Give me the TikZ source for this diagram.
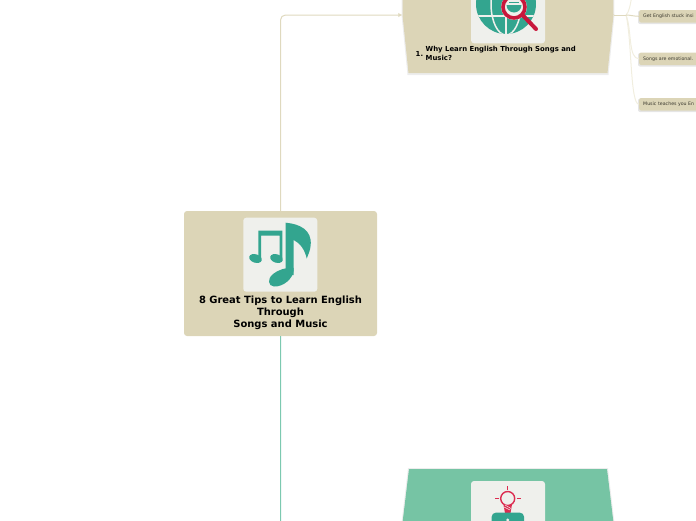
\documentclass[tikz,border=0pt]{standalone}
\usepackage{fontspec}
\setmainfont{DejaVu Sans}
\usetikzlibrary{arrows.meta}
\definecolor{beige}{HTML}{DCD5B7}
\definecolor{beigeline}{HTML}{DFD9BE}
\definecolor{paleline}{HTML}{F1EEDF}
\definecolor{mint}{HTML}{76C4A4}
\definecolor{mintline}{HTML}{7CC9B0}
\definecolor{tile}{HTML}{EFF0EC}
\definecolor{teal}{HTML}{33A58F}
\definecolor{crimson}{HTML}{C8173C}
\definecolor{rosered}{HTML}{DC2C50}
\definecolor{inkdark}{HTML}{3A382E}
\tikzset{
  x=1pt,y=-1pt,
  rootbox/.style={fill=beige,rounded corners=3pt,minimum width=193pt,minimum height=125pt,inner sep=0pt},
  tilebox/.style={fill=tile,rounded corners=3pt,minimum width=74pt,minimum height=74pt,inner sep=0pt},
  anchorbox/.style={minimum width=211pt,minimum height=116pt,inner sep=0pt},
  childbox/.style={fill=beige,rounded corners=2pt,minimum height=12.6pt,minimum width=80pt,inner sep=0pt},
  childshadow/.style={fill=black,opacity=.10,rounded corners=2pt},
  childtext/.style={font=\fontsize{4.7}{5.6}\selectfont,text=inkdark,inner sep=0pt,anchor=west},
  roottitle/.style={font=\fontsize{9.95}{12}\selectfont\bfseries,align=center,inner sep=0pt,text=black},
  subtitle/.style={font=\fontsize{6.9}{8.7}\selectfont\bfseries,align=left,inner sep=0pt,text=black,anchor=west},
  softshadow/.style={fill=black,opacity=.07},
  trunk/.style={line width=1pt,rounded corners=5pt},
  twig/.style={paleline,line width=1pt},
}
\begin{document}
\begin{tikzpicture}
\useasboundingbox (0,0) rectangle (696,520);
\clip (0,0) rectangle (696,520);
% anchors of the three main nodes
\node[rootbox] (root) at (280.5,273.5) {};
\node[anchorbox] (why) at (508,15) {};
\node[anchorbox] (idea) at (508,527) {};
% trunks
\draw[trunk,beigeline,-{Latex[length=4pt,width=4.5pt]}] (root.north) |- (why.west);
\draw[trunk,mintline] (root.south) |- (idea.west);
% upper main node
\fill[softshadow] (402,-43) -- (401.5,15) -- (407.5,75) -- (608.5,75) -- (614.5,15) -- (614,-43) -- cycle;
\fill[beige] (403,-43) -- (402.5,15) -- (408.5,73) -- (607.5,73) -- (613.5,15) -- (613,-43) -- cycle;
% lower main node
\fill[softshadow] (408,468) -- (401,527) -- (615,527) -- (608,468) -- cycle;
\fill[mint] (409,469) -- (402,527) -- (614,527) -- (607,469) -- cycle;
% root tile + music icon
\node[tilebox] (rootTile) at (280.3,254.7) {};
\begin{scope}
  \fill[teal] (258.3,258) -- (258.3,230.7) -- (282.3,230.7) -- (282.3,258) -- (279.5,258) -- (279.5,235.7) -- (261.2,235.7) -- (261.2,258) -- cycle;
  \fill[teal,rotate around={-18:(255.5,258.5)}] (255.5,258.5) ellipse (6.5 and 4.2);
  \fill[teal,rotate around={-18:(276.5,258.5)}] (276.5,258.5) ellipse (6.5 and 4.2);
  \fill[teal] (285.7,276) -- (285.7,222.7) .. controls (300,224) and (312,230) .. (310.7,245)
     .. controls (310.5,250) and (308,255) .. (306.7,258.5)
     .. controls (305,250) and (300,243) .. (293.7,240) -- (293.7,275) -- cycle;
  \fill[teal] (293.7,270) .. controls (293,279) and (283,287) .. (274,286.5)
     .. controls (268,286) and (267,279) .. (273,274) .. controls (278,270) and (286,267) .. (293.7,268) -- cycle;
\end{scope}
\node[roottitle] (rootTitle) at (280.5,312.5) {8 Great Tips to Learn English\\Through\\Songs and Music};
% why tile + globe icon
\node[tilebox] (whyTile) at (508,6.3) {};
\begin{scope}
  \begin{scope}
    \clip (506,4) circle (30);
    \fill[teal] (476,-26) rectangle (536,34);
    \draw[tile,line width=1.5pt] (476,-6) -- (536,-6) (476,16) -- (536,16);
    \draw[tile,line width=1.5pt] (506,-26) -- (506,34);
    \draw[tile,line width=1.5pt] (506,4) ellipse (15 and 31);
    \fill[tile] (514,7) circle (13);
  \end{scope}
  \begin{scope}
    \clip (505,5) rectangle (523,16);
    \fill[teal] (514,5) circle (7.5);
  \end{scope}
  \fill[teal] (509,2) rectangle (519,3.4);
  \draw[crimson,line width=3.6pt] (514,7) circle (11);
  \draw[crimson,line width=4pt,line cap=round] (523,15.5) -- (536,29);
\end{scope}
\node[subtitle] (whyNum) at (415.5,53.5) {1.};
\node[subtitle] (whyTitle) at (425.5,53.5) {Why Learn English Through Songs and\\Music?};
% idea tile + bulb icon
\node[tilebox] (ideaTile) at (508,518) {};
\begin{scope}
  \draw[rosered,line width=1.4pt] (507.7,498.5) circle (7);
  \draw[rosered,line width=1.2pt] (507.7,486) -- (507.7,489.5) (495,498.5) -- (499,498.5) (516.5,498.5) -- (520.5,498.5);
  \fill[rosered] (503.5,505) -- (511.9,505) -- (510.5,513) -- (505,513) -- cycle;
  \draw[tile,line width=.5pt] (504,507) -- (510,510) (505,505) -- (511,508.5);
  \fill[teal,rounded corners=4pt] (491.7,512.7) rectangle (524,530);
  \fill[tile] (507.7,520) circle (1.6);
\end{scope}
% child connectors
\coordinate (fork) at (626,15);
\coordinate (offUp) at (639,-28);
\fill[childshadow] (638,10.5) rectangle (700,24);
\fill[childshadow] (638,53) rectangle (700,66.5);
\fill[childshadow] (638,98.5) rectangle (700,112);
\node[childbox,anchor=west] (c1) at (639,16.3) {};
\node[childbox,anchor=west] (c2) at (639,58.8) {};
\node[childbox,anchor=west] (c3) at (639,104.3) {};
\draw[twig] (fork) .. controls (632,10) and (631,-15) .. (offUp);
\draw[twig] (fork) .. controls (632,30) and (628,58.8) .. (c2.west);
\draw[twig] (fork) .. controls (632,40) and (630,104.3) .. (c3.west);
\draw[beigeline,line width=1pt] (why.east) -- (fork);
\draw[beigeline,line width=1pt] (fork) .. controls (630,15) and (634,16.3) .. (c1.west);
% child labels
\node[childtext] (t1) at (643,16.3) {Get English stuck insi};
\node[childtext] (t2) at (643,59) {Songs are emotional.};
\node[childtext] (t3) at (643,104.3) {Music teaches you En};
\end{tikzpicture}
\end{document}
